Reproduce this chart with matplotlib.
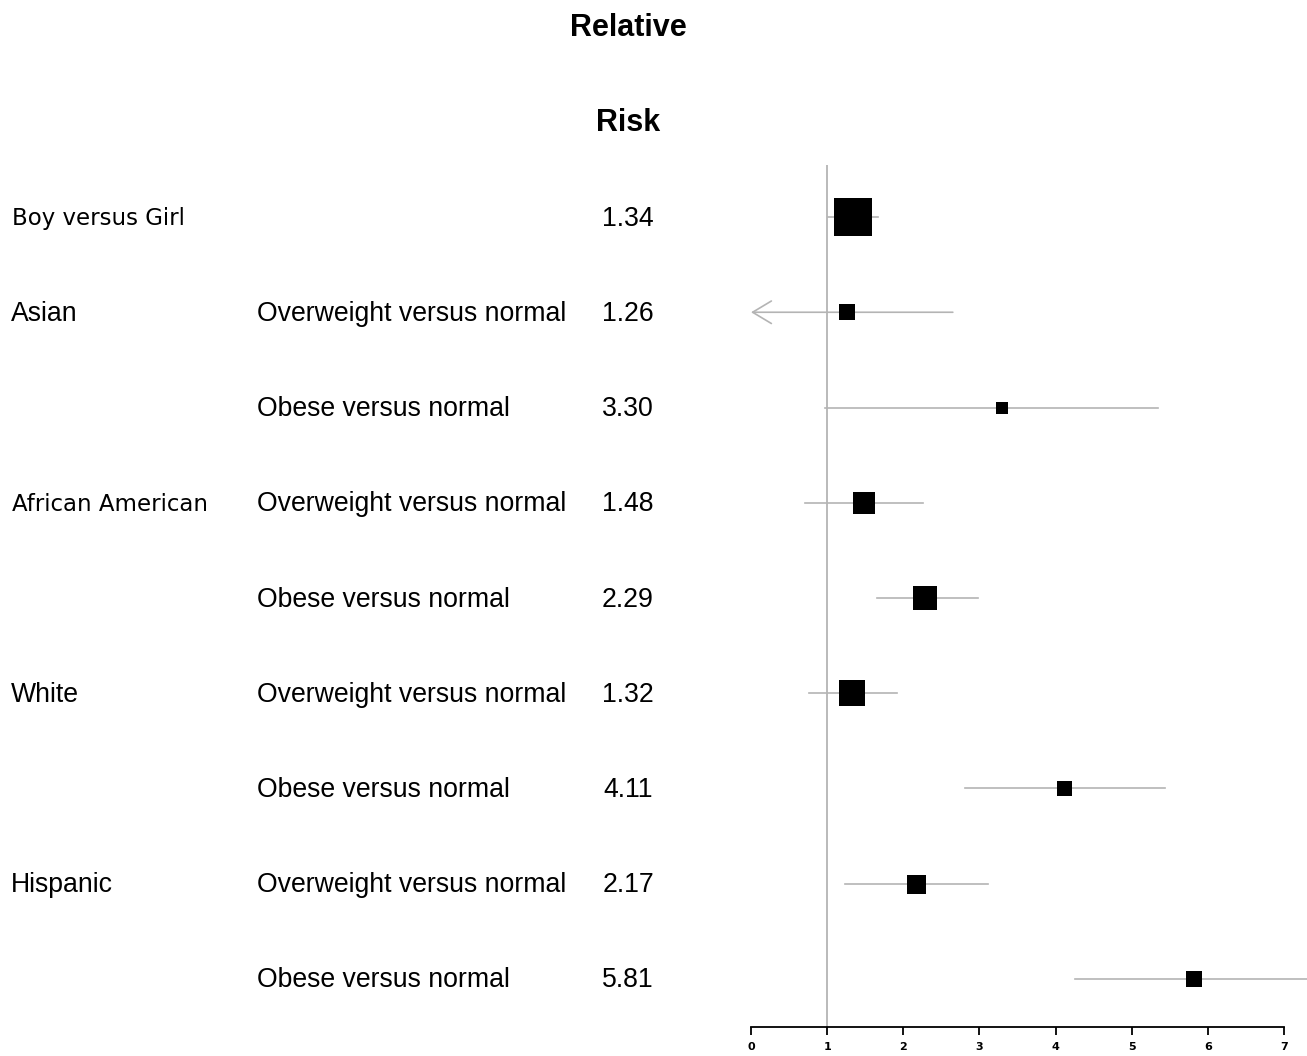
import matplotlib
matplotlib.use("Agg")
import matplotlib.pyplot as plt
from matplotlib.transforms import blended_transform_factory, offset_copy

# ---- data ----
groups = ["Boy versus Girl", "Asian", "", "African American", "", "White", "", "Hispanic", ""]
comparisons = ["", "Overweight versus normal", "Obese versus normal",
               "Overweight versus normal", "Obese versus normal",
               "Overweight versus normal", "Obese versus normal",
               "Overweight versus normal", "Obese versus normal"]
rr = [1.34, 1.26, 3.30, 1.48, 2.29, 1.32, 4.11, 2.17, 5.81]
lower = [1.01, -0.5, 0.97, 0.71, 1.66, 0.76, 2.81, 1.24, 4.26]
upper = [1.67, 2.65, 5.34, 2.26, 2.98, 1.92, 5.43, 3.11, 7.9]
weights = [38, 16, 12, 23, 24, 26, 15, 19, 16]
xticks = [0, 1, 2, 3, 4, 5, 6, 7]
rr_labels = ["1.34", "1.26", "3.30", "1.48", "2.29", "1.32", "4.11", "2.17", "5.81"]

W, H = 1307, 1056
fig = plt.figure(figsize=(W / 100, H / 100), dpi=100)
ax = fig.add_axes([751 / W, 1 - 1027 / H, (W - 751) / W, (1027 - 165) / H])
ax.set_xlim(0, 7.3)
ax.set_ylim(8.504, -0.546)

gray = "#b4b4b4"
ax.axvline(1, color=gray, lw=1.3, zorder=1)

rows = list(range(len(rr)))
for i in rows:
    lo = lower[i]
    if lo < 0:
        ax.annotate("", xy=(0.0, i), xytext=(upper[i], i),
                    arrowprops=dict(arrowstyle="->,head_length=0.75,head_width=0.45",
                                    color=gray, lw=1.2, mutation_scale=18,
                                    shrinkA=0, shrinkB=0), zorder=2)
    else:
        ax.plot([lo, upper[i]], [i, i], color=gray, lw=1.2, zorder=2)
    ax.plot(rr[i], i, marker="s", color="black", markersize=weights[i] * 0.72,
            markeredgewidth=0, linestyle="none", zorder=3)

for s in ["left", "top", "right"]:
    ax.spines[s].set_visible(False)
ax.spines["bottom"].set_bounds(0, 7)
ax.spines["bottom"].set_linewidth(1.3)
ax.set_yticks([])
ax.set_xticks(xticks)
ax.set_xticklabels([str(t) for t in xticks], fontsize=8, fontweight="bold")
ax.tick_params(axis="x", direction="out", length=6, width=1.3, pad=5)

tr = offset_copy(blended_transform_factory(fig.transFigure, ax.transData),
                 fig=fig, x=0, y=-1.5, units="dots")
fs = 19.2
for i in rows:
    if groups[i]:
        if groups[i] in ("Boy versus Girl", "African American"):
            ax.text(12 / W, i, groups[i], transform=tr, fontsize=16.5,
                    family="DejaVu Sans", va="center", ha="left", clip_on=False)
        else:
            ax.text(11 / W, i, groups[i], transform=tr, fontsize=fs,
                    family="Liberation Sans", va="center", ha="left", clip_on=False)
    if comparisons[i]:
        ax.text(257 / W, i, comparisons[i], transform=tr, fontsize=fs,
                family="Liberation Sans", va="center", ha="left", clip_on=False)
    ax.text(628 / W, i, rr_labels[i], transform=tr, fontsize=fs,
            family="Liberation Sans", va="center", ha="center", clip_on=False)

fig.text(628 / W, 1 - 28 / H, "Relative", fontsize=22, fontweight="bold",
         family="Liberation Sans", ha="center", va="center")
fig.text(628 / W, 1 - 123 / H, "Risk", fontsize=22, fontweight="bold",
         family="Liberation Sans", ha="center", va="center")

fig.savefig("out.png", dpi=100)
